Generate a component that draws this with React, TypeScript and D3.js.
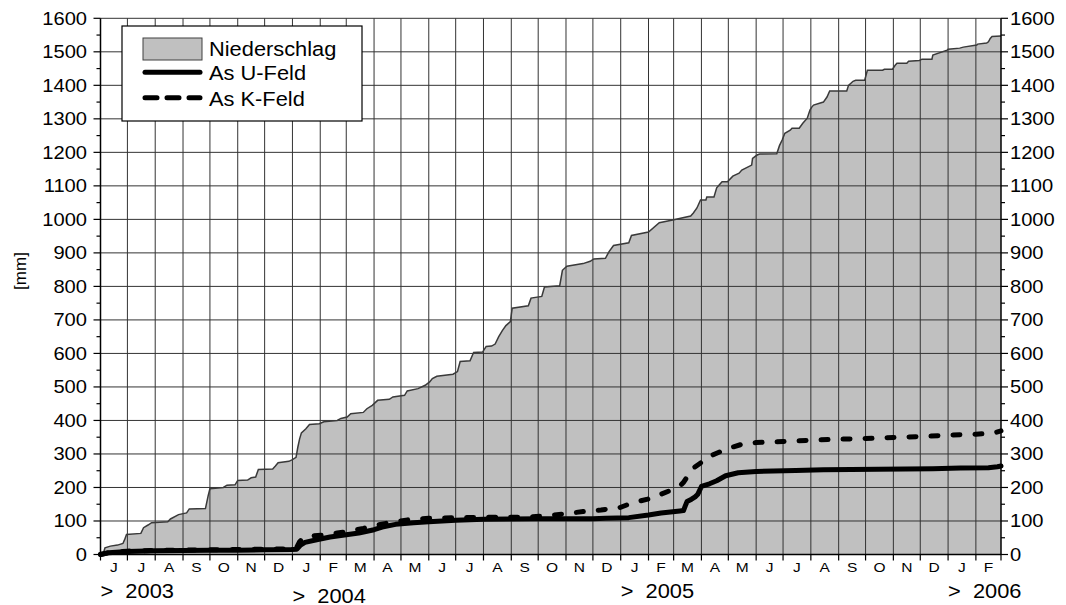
import React from 'react'
import * as d3 from 'd3'

// cumulative precipitation [mm]
const niederschlag: [string, number][] = [
  ['2003-06-01', 0], ['2003-06-04', 2], ['2003-06-06', 20], ['2003-06-12', 25], ['2003-06-20', 28],
  ['2003-06-26', 33], ['2003-06-28', 45], ['2003-06-30', 60], ['2003-07-16', 63], ['2003-07-19', 80],
  ['2003-07-24', 88], ['2003-07-28', 95], ['2003-08-15', 98], ['2003-08-18', 106], ['2003-08-27', 119],
  ['2003-09-05', 124], ['2003-09-08', 136], ['2003-09-26', 137], ['2003-09-29', 175], ['2003-10-01', 196],
  ['2003-10-16', 200], ['2003-10-20', 207], ['2003-10-29', 208], ['2003-11-01', 221], ['2003-11-12', 222],
  ['2003-11-16', 229], ['2003-11-21', 231], ['2003-11-24', 254], ['2003-12-10', 255], ['2003-12-13', 264],
  ['2003-12-16', 274], ['2003-12-28', 278], ['2004-01-01', 283], ['2004-01-05', 290], ['2004-01-07', 320],
  ['2004-01-09', 345], ['2004-01-11', 363], ['2004-01-16', 375], ['2004-01-20', 388], ['2004-01-31', 390],
  ['2004-02-05', 396], ['2004-02-20', 400], ['2004-02-24', 406], ['2004-03-02', 410], ['2004-03-06', 420],
  ['2004-03-20', 424], ['2004-03-24', 435], ['2004-03-30', 445], ['2004-04-05', 460], ['2004-04-18', 463],
  ['2004-04-22', 470], ['2004-05-05', 475], ['2004-05-08', 488], ['2004-05-20', 495], ['2004-05-28', 505],
  ['2004-06-02', 515], ['2004-06-05', 525], ['2004-06-10', 532], ['2004-06-28', 538], ['2004-07-03', 546],
  ['2004-07-06', 576], ['2004-07-17', 578], ['2004-07-21', 603], ['2004-07-31', 604], ['2004-08-04', 621],
  ['2004-08-10', 622], ['2004-08-14', 628], ['2004-08-18', 650], ['2004-08-22', 668], ['2004-08-26', 683],
  ['2004-08-31', 695], ['2004-09-02', 735], ['2004-09-20', 742], ['2004-09-23', 765], ['2004-10-05', 770],
  ['2004-10-08', 798], ['2004-10-25', 802], ['2004-10-28', 848], ['2004-11-02', 860], ['2004-11-20', 868],
  ['2004-11-28', 875], ['2004-12-02', 882], ['2004-12-15', 884], ['2004-12-19', 904], ['2004-12-24', 922],
  ['2005-01-10', 930], ['2005-01-13', 952], ['2005-02-01', 962], ['2005-02-13', 990], ['2005-02-28', 998],
  ['2005-03-20', 1010], ['2005-03-23', 1019], ['2005-03-27', 1034], ['2005-03-31', 1058], ['2005-04-06', 1058],
  ['2005-04-07', 1067], ['2005-04-15', 1067], ['2005-04-18', 1094], ['2005-04-21', 1103], ['2005-04-24', 1112],
  ['2005-04-30', 1112], ['2005-05-06', 1129], ['2005-05-13', 1138], ['2005-05-16', 1147], ['2005-05-27', 1162],
  ['2005-05-28', 1182], ['2005-06-02', 1192], ['2005-06-05', 1195], ['2005-06-24', 1196], ['2005-06-27', 1220],
  ['2005-06-30', 1237], ['2005-07-03', 1257], ['2005-07-09', 1266], ['2005-07-11', 1272], ['2005-07-19', 1272],
  ['2005-07-23', 1287], ['2005-07-28', 1302], ['2005-07-31', 1326], ['2005-08-02', 1335], ['2005-08-04', 1341],
  ['2005-08-15', 1350], ['2005-08-19', 1365], ['2005-08-22', 1383], ['2005-09-10', 1383], ['2005-09-12', 1400],
  ['2005-09-17', 1412], ['2005-09-20', 1415], ['2005-09-30', 1415], ['2005-10-03', 1445], ['2005-10-20', 1445],
  ['2005-10-22', 1448], ['2005-10-31', 1448], ['2005-11-03', 1460], ['2005-11-05', 1466], ['2005-11-16', 1466],
  ['2005-11-18', 1472], ['2005-11-30', 1474], ['2005-12-03', 1478], ['2005-12-14', 1478], ['2005-12-15', 1490],
  ['2005-12-31', 1505], ['2006-01-01', 1508], ['2006-01-14', 1511], ['2006-01-18', 1514], ['2006-02-02', 1520],
  ['2006-02-03', 1523], ['2006-02-13', 1526], ['2006-02-15', 1530], ['2006-02-17', 1540], ['2006-02-19', 1546],
  ['2006-03-01', 1547]
]

const asUFeld: [string, number][] = [
  ['2003-06-01', 0], ['2003-06-10', 5], ['2003-07-01', 9], ['2003-08-01', 11], ['2003-09-01', 12],
  ['2003-10-01', 12.5], ['2003-11-01', 13], ['2003-12-01', 14], ['2003-12-31', 15], ['2004-01-06', 16],
  ['2004-01-10', 28], ['2004-01-15', 36], ['2004-01-28', 44], ['2004-02-12', 52], ['2004-02-28', 58],
  ['2004-03-15', 64], ['2004-04-01', 74], ['2004-04-10', 82], ['2004-04-25', 90], ['2004-05-15', 95],
  ['2004-06-01', 98], ['2004-07-01', 102], ['2004-08-01', 105], ['2004-09-01', 106], ['2004-10-01', 106.5],
  ['2004-11-01', 107], ['2004-12-01', 107], ['2004-12-15', 108], ['2005-01-10', 110], ['2005-02-01', 118],
  ['2005-02-15', 124], ['2005-03-08', 130], ['2005-03-12', 131], ['2005-03-14', 145], ['2005-03-16', 158],
  ['2005-03-21', 165], ['2005-03-25', 172], ['2005-03-28', 180], ['2005-04-01', 203], ['2005-04-10', 211],
  ['2005-04-18', 220], ['2005-04-28', 235], ['2005-05-12', 244], ['2005-06-01', 248], ['2005-07-15', 251],
  ['2005-08-15', 253], ['2005-09-15', 254], ['2005-10-15', 254.5], ['2005-11-15', 255], ['2005-12-15', 256],
  ['2006-01-15', 258], ['2006-02-15', 259], ['2006-02-25', 262], ['2006-03-01', 264]
]

const asKFeld: [string, number][] = [
  ['2003-06-01', 0], ['2003-06-10', 6], ['2003-07-01', 10], ['2003-08-01', 12], ['2003-09-01', 13],
  ['2003-10-01', 14], ['2003-11-01', 15], ['2003-12-01', 16], ['2003-12-31', 17], ['2004-01-05', 18],
  ['2004-01-09', 38], ['2004-01-13', 50], ['2004-01-20', 55], ['2004-02-05', 58], ['2004-02-20', 64],
  ['2004-03-05', 70], ['2004-03-20', 78], ['2004-04-05', 88], ['2004-04-20', 96], ['2004-05-10', 104],
  ['2004-06-01', 108], ['2004-07-01', 110], ['2004-08-01', 111], ['2004-09-01', 111], ['2004-09-20', 112],
  ['2004-10-10', 115], ['2004-11-01', 122], ['2004-11-20', 128], ['2004-12-10', 133], ['2004-12-31', 140],
  ['2005-01-15', 155], ['2005-01-31', 165], ['2005-02-15', 180], ['2005-03-01', 195], ['2005-03-08', 205],
  ['2005-03-12', 215], ['2005-03-18', 240], ['2005-03-24', 260], ['2005-04-01', 275], ['2005-04-08', 290],
  ['2005-04-16', 300], ['2005-04-25', 310], ['2005-05-05', 320], ['2005-05-15', 328], ['2005-06-01', 334],
  ['2005-07-01', 337], ['2005-08-01', 341], ['2005-09-01', 344], ['2005-10-01', 346], ['2005-11-01', 349],
  ['2005-12-01', 352], ['2006-01-01', 356], ['2006-02-01', 359], ['2006-02-20', 362], ['2006-03-01', 369]
]

const monthInitials = ['J', 'F', 'M', 'A', 'M', 'J', 'J', 'A', 'S', 'O', 'N', 'D']
const yearLabels: [string, string][] = [
  ['2003-06-01', '2003'], ['2004-01-01', '2004'], ['2005-01-01', '2005'], ['2006-01-01', '2006']
]
const legendItems = ['Niederschlag', 'As U-Feld', 'As K-Feld']
const yTicks = d3.range(0, 1601, 100)
const yMinor = d3.range(50, 1600, 100)

const parse = d3.timeParse('%Y-%m-%d')
const toPts = (arr: [string, number][]) => arr.map(d => ({ date: parse(d[0]) as Date, v: d[1] }))

const FONT = 'Liberation Sans, Arial, sans-serif'
const SX = 1.15

function T(props: any) {
  const { x, y, size, anchor = 'start', sx = SX, children } = props
  return (
    <text transform={'translate(' + x + ',' + y + ') scale(' + sx + ',1)'} fontSize={size}
      textAnchor={anchor} fontFamily={FONT} fill="#000" style={{ whiteSpace: 'pre' }}>
      {children}
    </text>
  )
}

export default function App() {
  const start = parse('2003-06-01') as Date
  const end = parse('2006-03-01') as Date
  const x = d3.scaleTime().domain([start, end]).range([100.5, 1001])
  const y = d3.scaleLinear().domain([0, 1600]).range([554.5, 18.3])

  const rain = toPts(niederschlag)
  const uf = toPts(asUFeld)
  const kf = toPts(asKFeld)

  const area = d3.area<any>().x(d => x(d.date)).y0(y(0)).y1(d => y(d.v))
  const line = d3.line<any>().x(d => x(d.date)).y(d => y(d.v))

  const months = d3.timeMonth.range(start, end)
  const grid = '#333'

  return (
    <svg width={1066} height={605} style={{ position: 'absolute', left: 0, top: 0, background: '#fff' }}>
      {/* precipitation area */}
      <path d={area(rain) as string} fill="#c0c0c0" stroke="none" />

      {/* grid */}
      {months.slice(1).map((m, i) => (
        <line key={'v' + i} x1={x(m)} x2={x(m)} y1={y(1600)} y2={y(0)} stroke={grid} strokeWidth={1} />
      ))}
      {yTicks.slice(1).map(t => (
        <line key={'h' + t} x1={x(start)} x2={x(end)} y1={y(t)} y2={y(t)} stroke={grid} strokeWidth={1} />
      ))}

      <path d={line(rain) as string} fill="none" stroke="#3a3a3a" strokeWidth={1.5} />

      {/* As lines */}
      <path d={line(uf) as string} fill="none" stroke="#000" strokeWidth={5} strokeLinejoin="round" strokeLinecap="round" />
      <path d={line(kf) as string} fill="none" stroke="#000" strokeWidth={5} strokeDasharray="7,15" strokeLinecap="round" />

      {/* axes */}
      <line x1={x(start)} x2={x(start)} y1={y(1600)} y2={y(0)} stroke="#000" strokeWidth={1.5} />
      <line x1={x(end)} x2={x(end)} y1={y(1600)} y2={y(0)} stroke="#000" strokeWidth={1.5} />
      <line x1={x(start)} x2={x(end)} y1={y(0)} y2={y(0)} stroke="#000" strokeWidth={1.5} />

      {yTicks.map(t => (
        <g key={'yt' + t}>
          <line x1={x(start) - 7} x2={x(start)} y1={y(t)} y2={y(t)} stroke="#000" strokeWidth={1.2} />
          <line x1={x(end)} x2={x(end) + 7} y1={y(t)} y2={y(t)} stroke="#000" strokeWidth={1.2} />
          <T x={87} y={y(t) + 6.3} size={17.5} anchor="end">{String(t)}</T>
          <T x={1010} y={y(t) + 6.3} size={17.5}>{String(t)}</T>
        </g>
      ))}
      {yMinor.map(t => (
        <g key={'ym' + t}>
          <line x1={x(start) - 4} x2={x(start)} y1={y(t)} y2={y(t)} stroke="#000" strokeWidth={1.2} />
          <line x1={x(end)} x2={x(end) + 4} y1={y(t)} y2={y(t)} stroke="#000" strokeWidth={1.2} />
        </g>
      ))}

      {/* x ticks and month letters */}
      {months.concat([end]).map((m, i) => (
        <line key={'xt' + i} x1={x(m)} x2={x(m)} y1={y(0)} y2={y(0) + 6} stroke="#000" strokeWidth={1.2} />
      ))}
      {months.map((m, i) => (
        <T key={'ml' + i} x={(x(m) + x(d3.timeMonth.offset(m, 1))) / 2} y={572.3} size={13.5} anchor="middle">
          {monthInitials[m.getMonth()]}
        </T>
      ))}
      {yearLabels.map(([d, label]) => (
        <T key={label} x={x(parse(d) as Date)} y={label === '2004' ? 602.5 : 597.5} size={19.5} sx={1.12}>
          {'>  ' + label}
        </T>
      ))}

      <text transform="translate(26,271) rotate(-90)" fontSize={17} fontFamily={FONT} textAnchor="middle">[mm]</text>

      {/* legend */}
      <rect x={122} y={26} width={240} height={95} fill="#fff" stroke="#000" strokeWidth={1.2} />
      <rect x={143} y={38} width={59} height={22} fill="#c0c0c0" stroke="#404040" strokeWidth={1} />
      <line x1={145} x2={200} y1={72.3} y2={72.3} stroke="#000" strokeWidth={5} strokeLinecap="round" />
      <line x1={145} x2={200} y1={97.7} y2={97.7} stroke="#000" strokeWidth={5} strokeDasharray="12,10" strokeLinecap="round" />
      {legendItems.map((name, i) => (
        <T key={name} x={209} y={[55.7, 80, 105.7][i]} size={19.5} sx={1.12}>{name}</T>
      ))}
    </svg>
  )
}
